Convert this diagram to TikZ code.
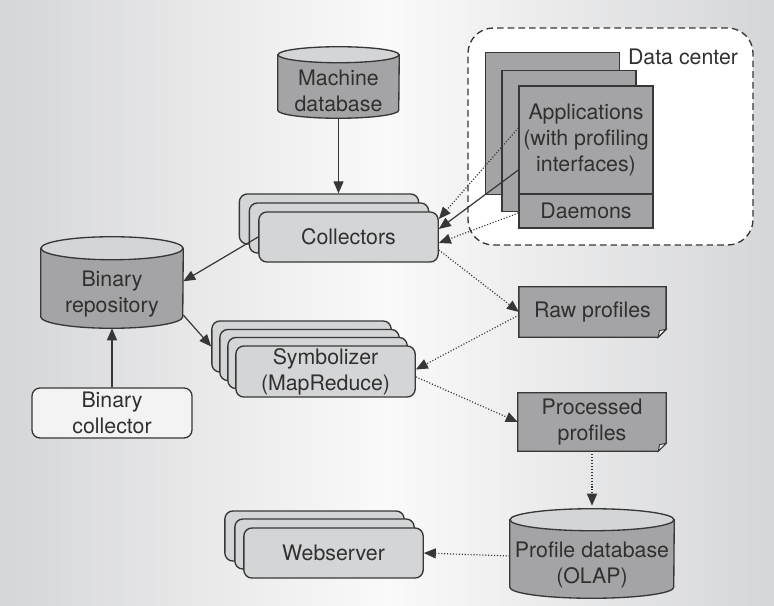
\documentclass[tikz,border=0pt]{standalone}
\usepackage{fontspec}
\setmainfont{TeX Gyre Heros}
\usetikzlibrary{arrows.meta}
\definecolor{linegray}{RGB}{55,55,55}
\definecolor{darkfill}{RGB}{164,164,166}
\definecolor{lightfill}{RGB}{212,213,215}
\definecolor{palefill}{RGB}{243,243,244}
\definecolor{bgside}{RGB}{213,214,216}
\definecolor{bgmid}{RGB}{250,250,250}
\definecolor{textgray}{RGB}{48,48,48}
\pgfdeclarelayer{background}
\pgfsetlayers{background,main}
\tikzstyle{stackbox}=[draw=linegray,fill=lightfill,rounded corners=6pt,line width=1pt,minimum width=134.5pt,minimum height=37.5pt,inner sep=0pt,align=center]
\tikzstyle{dbase}=[inner sep=0pt,align=center]
\tikzstyle{appbox}=[draw=linegray,fill=darkfill,line width=1pt,minimum width=100.5pt,inner sep=0pt,align=center]
\tikzstyle{docbox}=[minimum height=37.5pt,inner sep=0pt,align=center]
\tikzstyle{dcbox}=[draw=linegray,fill=white,dash pattern=on 5pt off 3pt,rounded corners=19pt,line width=1pt,minimum width=213.75pt,minimum height=162.75pt]
\tikzstyle{flow}=[draw=linegray,line width=0.9pt,-{Triangle[length=9pt,width=7.5pt]}]
\tikzstyle{dotflow}=[flow,dash pattern=on 0.8pt off 1.4pt]

\begin{document}
\begin{tikzpicture}[x=0.75pt,y=-0.75pt,font=\fontsize{16}{19.5}\selectfont,text=textgray]
    \useasboundingbox (0,0) rectangle (774,606);
    \begin{pgfonlayer}{background}
    \shade[left color=bgside,right color=bgside,middle color=bgmid] (0,0) rectangle (774,606);
    \end{pgfonlayer}

    % data center
    \node[dcbox] (dc) at (610.5,136.5) {};
    \node (dclabel) at (683,57) {Data center};
    \node[appbox,minimum height=106pt] (app1) at (552.5,123.5) {};
    \node[appbox,minimum height=106pt] (app2) at (569,141) {};
    \node[appbox,minimum height=81pt] (app3) at (586,140) {Applications\\(with profiling\\interfaces)};
    \node[appbox,minimum height=25.5pt] (dmn) at (586,211) {Daemons};

    % databases (body below the top ellipse)
    \node[dbase,minimum width=90.75pt,minimum height=41.25pt] (mdb) at (338.5,90.5) {Machine\\database};
    \node[dbase,minimum width=106.5pt,minimum height=51pt] (bin) at (112,294) {Binary\\repository};
    \node[dbase,minimum width=123pt,minimum height=50.25pt] (pdb) at (592,564.5) {Profile database\\(OLAP)};
    \begin{pgfonlayer}{background}
    \foreach \db/\rx/\ry in {mdb/60.5/8,bin/71/11.5,pdb/82/11} {
        \filldraw[draw=linegray,fill=darkfill,line width=1pt] ([shift={(0,-\ry)}]\db.north west) -- ([shift={(0,-\ry)}]\db.south west) arc[start angle=180,end angle=0,x radius=\rx,y radius=\ry] -- ([shift={(0,-\ry)}]\db.north east) -- cycle;
        \filldraw[draw=linegray,fill=lightfill,line width=1pt] ([shift={(0,-\ry)}]\db.north) ellipse[x radius=\rx,y radius=\ry];
    }
    \end{pgfonlayer}

    % stacked servers
    \foreach \i/\x/\y in {1/329/219,2/339/228}
        \node[stackbox] (col\i) at (\x,\y) {};
    \node[stackbox] (col3) at (348.5,237) {Collectors};
    \foreach \i/\x/\y in {1/301.5/346.5,2/309.5/355,3/317.5/363}
        \node[stackbox,minimum height=38.25pt] (sym\i) at (\x,\y) {};
    \node[stackbox,minimum height=38.25pt] (sym4) at (325.5,371.5) {Symbolizer\\(MapReduce)};
    \foreach \i/\x/\y in {1/314.5/536,2/324.5/544}
        \node[stackbox] (web\i) at (\x,\y) {};
    \node[stackbox] (web3) at (333.5,553) {Webserver};
    \node[stackbox,fill=palefill,minimum width=120pt] (bcol) at (112,413) {Binary\\collector};

    % profile files
    \node[docbox,minimum width=110pt] (raw) at (592.5,312) {Raw profiles};
    \node[docbox,minimum width=111pt,minimum height=43.5pt] (proc) at (592,422) {Processed\\profiles};
    \begin{pgfonlayer}{background}
    \foreach \doc in {raw,proc} {
        \filldraw[draw=linegray,fill=darkfill,line width=1pt] (\doc.north west) -- (\doc.north east) -- ([yshift=6pt]\doc.south east) -- ([xshift=-6pt]\doc.south east) -- (\doc.south west) -- cycle;
        \filldraw[draw=linegray,fill=palefill,line width=0.7pt] ([yshift=6pt]\doc.south east) -- ([xshift=-6pt]\doc.south east) -- ([xshift=-5pt,yshift=5pt]\doc.south east) -- cycle;
    }
    \end{pgfonlayer}

    % connections
    \draw[flow] (mdb.south) -- (mdb.south |- col1.north);
    \draw[dotflow] ([yshift=9pt]app3.west) -- ([yshift=13.5pt]col3.east);
    \draw[flow] ([yshift=-22.5pt]app3.west) -- ([yshift=6pt]col3.east);
    \draw[dotflow] ([yshift=-1.5pt]dmn.west) -- ([yshift=-4.5pt]col3.east);
    \draw[flow] (col3.west) -- ([yshift=9.5pt]bin.east);
    \draw[flow] ([yshift=-15.75pt]bin.east) -- (sym1.west);
    \draw[flow] (bcol.north) -- (bin.south);
    \draw[dotflow] ([yshift=-9.75pt]col3.east) -- (raw.west);
    \draw[dotflow] ([yshift=-2.25pt]raw.west) -- ([yshift=1.5pt]sym4.east);
    \draw[dotflow] ([yshift=-4pt]sym4.east) -- (proc.west);
    \draw[dotflow] (proc.south) -- ([yshift=18.75pt]pdb.north);
    \draw[dotflow] ([yshift=6.4pt]pdb.west) -- (web3.east);
\end{tikzpicture}
\end{document}
